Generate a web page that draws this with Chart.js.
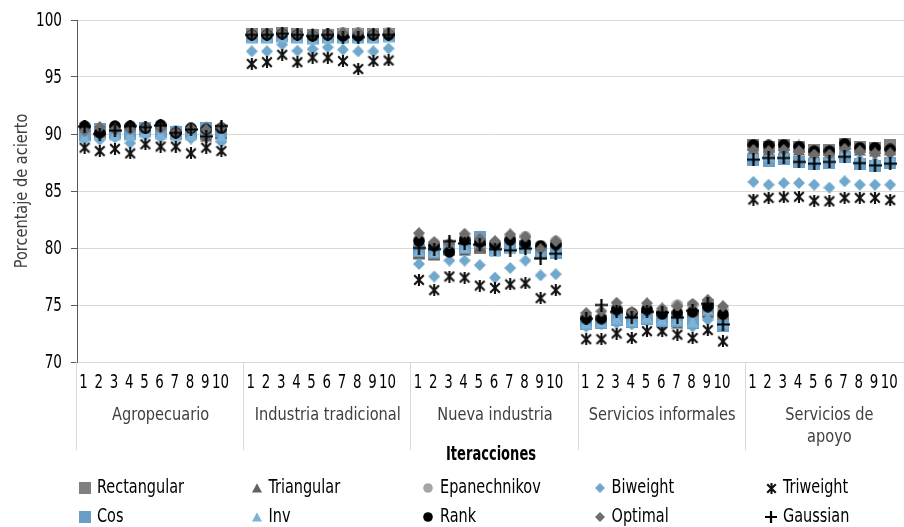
<!DOCTYPE html>
<html><head><meta charset="utf-8">
<script src="https://cdn.jsdelivr.net/npm/chart.js@4.4.1/dist/chart.umd.min.js"></script>
<style>
html,body{margin:0;padding:0;background:#fff;overflow:hidden}
#wrap{position:relative;width:904px;height:527px;overflow:hidden}
canvas{display:block}
</style>
</head><body><div id="wrap"><canvas id="c" width="920" height="527"></canvas></div>
<script>
// ---------- data ----------
const groups = [['Agropecuario'], ['Industria tradicional'], ['Nueva industria'], ['Servicios informales'], ['Servicios de', 'apoyo']];
const iterations = ['1','2','3','4','5','6','7','8','9','10'];
const yTicks = [70, 75, 80, 85, 90, 95, 100];
const xTitle = 'Iteracciones';
const yTitle = 'Porcentaje de acierto';

const rectangular = [
  90.0, 90.2, 90.3, 90.2, 90.4, 90.3, 90.1, 90.2, 90.0, 90.1,
  98.8, 98.8, 98.9, 98.8, 98.7, 98.7, 98.8, 98.8, 98.8, 98.8,
  79.6, 79.5, 79.9, 80.0, 80.0, 80.0, 80.3, 80.2, 79.6, 79.9,
  73.6, 73.6, 74.2, 73.9, 74.2, 74.0, 73.6, 73.8, 74.5, 73.6,
  89.0, 88.9, 89.0, 88.9, 88.6, 88.6, 89.1, 88.9, 88.8, 89.0];
const triangular = [
  89.9, 90.1, 90.2, 90.1, 90.3, 90.2, 90.0, 90.2, 89.8, 90.0,
  98.7, 98.7, 98.8, 98.7, 98.6, 98.6, 98.7, 98.7, 98.7, 98.7,
  79.5, 79.4, 79.8, 79.8, 80.1, 79.9, 80.0, 80.0, 79.5, 79.8,
  73.5, 73.4, 74.0, 73.7, 74.0, 73.8, 73.4, 73.6, 74.3, 73.5,
  88.7, 88.6, 88.7, 88.6, 88.3, 88.3, 88.8, 88.6, 88.5, 88.6];
const epanechnikov = [
  90.4, 90.5, 90.5, 90.5, 90.6, 90.6, 90.3, 90.5, 90.4, 90.5,
  98.8, 98.8, 98.9, 98.8, 98.7, 98.8, 98.9, 98.9, 98.8, 98.9,
  80.8, 80.4, 80.3, 80.9, 81.0, 80.4, 80.9, 81.0, 80.0, 80.6,
  74.0, 73.9, 74.7, 74.1, 74.7, 74.4, 75.0, 75.0, 74.9, 74.6,
  88.8, 88.7, 88.8, 88.7, 88.4, 88.4, 88.9, 88.7, 88.5, 88.6];
const biweight = [
  89.6, 89.5, 89.7, 89.2, 89.9, 89.7, 89.7, 89.6, 90.6, 89.3,
  97.25, 97.25, 97.85, 97.3, 97.45, 97.6, 97.4, 97.25, 97.25, 97.5,
  78.6, 77.5, 78.9, 78.9, 78.5, 77.4, 78.25, 78.9, 77.6, 77.7,
  73.1, 73.3, 73.4, 73.3, 73.6, 73.1, 73.5, 73.1, 73.7, 73.2,
  85.8, 85.55, 85.7, 85.7, 85.55, 85.3, 85.85, 85.55, 85.55, 85.55];
const triweight = [
  88.8, 88.5, 88.7, 88.3, 89.1, 88.9, 88.9, 88.3, 88.8, 88.5,
  96.15, 96.3, 96.95, 96.3, 96.7, 96.7, 96.4, 95.7, 96.4, 96.45,
  77.2, 76.3, 77.5, 77.4, 76.7, 76.5, 76.8, 76.9, 75.6, 76.3,
  72.0, 72.0, 72.5, 72.1, 72.7, 72.7, 72.4, 72.1, 72.8, 71.8,
  84.25, 84.4, 84.45, 84.5, 84.15, 84.1, 84.4, 84.4, 84.4, 84.2];
const cos = [
  89.9, 90.4, 90.1, 90.0, 90.5, 90.3, 90.2, 90.1, 90.5, 90.3,
  98.5, 98.5, 98.6, 98.5, 98.4, 98.5, 98.5, 98.5, 98.5, 98.6,
  79.8, 79.8, 80.0, 80.2, 81.0, 79.8, 80.1, 80.2, 79.7, 79.6,
  73.3, 73.4, 73.7, 73.5, 73.8, 73.6, 73.6, 73.4, 75.0, 73.2,
  87.75, 87.6, 87.8, 87.55, 87.4, 87.5, 88.0, 87.4, 87.2, 87.5];
const inv = [
  89.7, 90.0, 89.9, 89.9, 90.2, 90.0, 89.9, 89.9, 90.3, 89.8,
  98.4, 98.4, 98.5, 98.4, 98.3, 98.4, 98.4, 98.4, 98.4, 98.5,
  79.7, 79.6, 79.9, 80.0, 80.5, 79.7, 80.0, 80.0, 79.5, 79.7,
  73.4, 73.5, 73.8, 73.6, 73.9, 73.7, 73.7, 73.5, 74.6, 73.4,
  88.2, 88.1, 88.2, 89.1, 87.9, 87.9, 88.4, 88.0, 87.8, 88.0];
const rank = [
  90.7, 90.1, 90.7, 90.7, 90.5, 90.8, 90.1, 90.5, 90.4, 90.5,
  98.7, 98.7, 98.8, 98.7, 98.6, 98.7, 98.6, 98.6, 98.7, 98.7,
  80.6, 80.2, 79.65, 80.7, 80.5, 80.3, 80.7, 80.4, 80.2, 80.3,
  73.8, 73.8, 74.6, 74.3, 74.6, 74.2, 74.3, 74.4, 74.85, 74.2,
  89.05, 89.0, 89.05, 88.9, 88.5, 88.5, 89.15, 88.8, 88.8, 88.65];
const optimal = [
  90.3, 90.6, 90.4, 90.4, 90.6, 90.5, 90.2, 90.5, 90.4, 90.6,
  98.8, 98.8, 98.9, 98.8, 98.8, 98.8, 98.9, 98.9, 98.8, 98.9,
  81.3, 80.5, 80.4, 81.25, 80.8, 80.6, 81.2, 81.0, 79.9, 80.6,
  74.3, 74.45, 75.2, 74.4, 75.15, 74.7, 74.9, 75.1, 75.45, 74.9,
  88.6, 88.5, 88.6, 88.5, 88.2, 88.2, 88.7, 88.5, 88.3, 88.3];
const gaussian = [
  90.65, 90.0, 90.3, 90.7, 90.6, 90.75, 90.1, 90.4, 89.8, 90.7,
  98.7, 98.7, 98.8, 98.7, 98.6, 98.7, 98.5, 98.5, 98.7, 98.7,
  80.0, 79.9, 80.6, 80.4, 80.3, 79.9, 79.8, 79.95, 79.1, 79.5,
  73.8, 75.0, 74.4, 73.9, 74.4, 74.35, 73.9, 74.5, 75.1, 73.3,
  87.75, 87.9, 87.9, 87.55, 87.4, 87.55, 88.0, 87.45, 87.25, 87.4];

// ---------- series definitions ----------
const FAMILY = '"DejaVu Sans Condensed", "DejaVu Sans", sans-serif';
const seriesDefs = [
  {label: 'Rectangular', values: rectangular, shape: 'square', color: '#7f7f7f'},
  {label: 'Triangular', values: triangular, shape: 'triangle', color: '#626262'},
  {label: 'Epanechnikov', values: epanechnikov, shape: 'circle', color: '#a6a6a6'},
  {label: 'Biweight', values: biweight, shape: 'diamond', color: '#70a8cd'},
  {label: 'Triweight', values: triweight, shape: 'star', color: '#111111'},
  {label: 'Cos', values: cos, shape: 'square', color: '#6a9ec6'},
  {label: 'Inv', values: inv, shape: 'triangle', color: '#7db3d8'},
  {label: 'Rank', values: rank, shape: 'circle', color: '#000000'},
  {label: 'Optimal', values: optimal, shape: 'diamond', color: '#6d6d6d'},
  {label: 'Gaussian', values: gaussian, shape: 'plus', color: '#000000'}
];

function makeMarker(shape, color, size) {
  const c = document.createElement('canvas');
  c.width = size; c.height = size;
  const g = c.getContext('2d');
  const h = size / 2;
  g.fillStyle = color; g.strokeStyle = color;
  g.beginPath();
  if (shape === 'square') {
    g.fillRect(0, 0, size, size);
  } else if (shape === 'circle') {
    g.arc(h, h, h - 0.2, 0, Math.PI * 2); g.fill();
  } else if (shape === 'triangle') {
    g.moveTo(h, 0.3); g.lineTo(size, size - 0.5); g.lineTo(0, size - 0.5); g.closePath(); g.fill();
  } else if (shape === 'diamond') {
    g.moveTo(h, 0); g.lineTo(size, h); g.lineTo(h, size); g.lineTo(0, h); g.closePath(); g.fill();
  } else if (shape === 'star') {
    g.lineWidth = 2.1;
    g.moveTo(1.2, 1.2); g.lineTo(size - 1.2, size - 1.2);
    g.moveTo(size - 1.2, 1.2); g.lineTo(1.2, size - 1.2);
    g.moveTo(h, 0); g.lineTo(h, size);
    g.stroke();
  } else if (shape === 'plus') {
    g.lineWidth = 2.2;
    g.moveTo(h, 0); g.lineTo(h, size);
    g.moveTo(0, h); g.lineTo(size, h);
    g.stroke();
  }
  return c;
}
const plotSize = {square: 12, circle: 12, triangle: 12, diamond: 12, star: 12, plus: 13};
const legendSize = {square: 12, circle: 10, triangle: 10, diamond: 10, star: 11, plus: 12};

// category labels: 10 iterations per group followed by one empty slot
const labels = [];
groups.forEach(() => { iterations.forEach(t => labels.push(t)); labels.push(''); });
function withGaps(vals) {
  const out = [];
  groups.forEach((g, gi) => {
    iterations.forEach((t, ti) => out.push(vals[gi * iterations.length + ti]));
    out.push(null);
  });
  return out;
}

const datasets = seriesDefs.map((s, i) => ({
  label: s.label,
  data: withGaps(s.values),
  showLine: false,
  pointStyle: makeMarker(s.shape, s.color, plotSize[s.shape]),
  pointRadius: 6,
  borderColor: s.color,
  backgroundColor: s.color,
  order: seriesDefs.length - i
}));

// text styles: size, weight, colour, and a sample string with its width in the reference
const styles = {
  tick:   {size: 20, weight: 'normal', color: '#000', sample: '100', width: 26},
  iter:   {size: 20, weight: 'normal', color: '#000', sample: '10', width: 17},
  group:  {size: 18, weight: 'normal', color: '#404040', sample: 'Industria tradicional', width: 146},
  ytitle: {size: 18, weight: 'normal', color: '#404040', sample: 'Industria tradicional', width: 146},
  xtitle: {size: 19, weight: 'bold', color: '#000', sample: 'Iteracciones', width: 90},
  legend: {size: 20, weight: 'normal', color: '#000', sample: 'Rectangular', width: 87}
};
function fontOf(st) { return st.weight + ' ' + st.size + 'px ' + FAMILY; }
function squeeze(ctx, st) {
  if (st._sx) return st._sx;
  ctx.save(); ctx.font = fontOf(st);
  st._sx = st.width / ctx.measureText(st.sample).width;
  ctx.restore();
  return st._sx;
}
function text(ctx, s, x, y, st, align, rot) {
  const sx = squeeze(ctx, st);
  ctx.save();
  ctx.translate(x, y);
  if (rot) ctx.rotate(rot);
  ctx.scale(sx, 1);
  ctx.font = fontOf(st);
  ctx.fillStyle = st.color;
  ctx.textAlign = align || 'center';
  ctx.textBaseline = 'middle';
  ctx.fillText(s, 0, 0);
  ctx.restore();
}

const decor = {
  id: 'decor',
  afterDraw(chart) {
    const ctx = chart.ctx;
    const xs = chart.scales.x, ys = chart.scales.y;
    const area = chart.chartArea;
    const slot = xs.getPixelForValue(1) - xs.getPixelForValue(0);
    const per = iterations.length + 1;
    ctx.save();
    // y tick labels
    yTicks.forEach(v => text(ctx, String(v), 62, ys.getPixelForValue(v) + 1, styles.tick, 'right'));
    // y title
    text(ctx, yTitle, 22, (area.top + area.bottom) / 2, styles.ytitle, 'center', -Math.PI / 2);
    // iteration labels
    labels.forEach((l, i) => { if (l) text(ctx, l, xs.getPixelForValue(i) - 1, 383, styles.iter, 'center'); });
    // group dividers
    ctx.strokeStyle = '#d9d9d9'; ctx.lineWidth = 1;
    const bounds = [area.left];
    groups.forEach((g, gi) => bounds.push(xs.getPixelForValue(gi * per + per - 1) + slot / 2));
    ctx.beginPath();
    bounds.forEach(b => { const bx = Math.round(b) - 0.5; ctx.moveTo(bx, area.bottom); ctx.lineTo(bx, 450); });
    ctx.stroke();
    // group labels
    groups.forEach((g, gi) => {
      const cx = (bounds[gi] + bounds[gi + 1]) / 2;
      g.forEach((line, li) => text(ctx, line, cx, 415 + li * 22, styles.group, 'center'));
    });
    // x title
    text(ctx, xTitle, 491, 455, styles.xtitle, 'center');
    // legend
    const cols = 5;
    seriesDefs.forEach((s, i) => {
      const col = i % cols, row = Math.floor(i / cols);
      const tx = 97 + col * 171.5;
      const ty = 488 + row * 29;
      const m = makeMarker(s.shape, s.color, legendSize[s.shape]);
      ctx.drawImage(m, Math.round(tx - 12 - m.width / 2), Math.round(ty - m.height / 2));
      text(ctx, s.label, tx, ty, styles.legend, 'left');
    });
    ctx.restore();
  }
};

new Chart(document.getElementById('c'), {
  type: 'line',
  data: {labels, datasets},
  options: {
    responsive: false,
    animation: false,
    events: [],
    layout: {padding: {top: 20, left: 0, right: 2, bottom: 0}},
    plugins: {legend: {display: false}, tooltip: {enabled: false}},
    scales: {
      x: {
        type: 'category',
        offset: true,
        grid: {display: false, drawTicks: false, tickLength: 0},
        border: {display: true, color: '#d9d9d9'},
        ticks: {display: false},
        afterFit(s) { s.height = 527 - 362; }
      },
      y: {
        min: 70, max: 100,
        afterBuildTicks(s) { s.ticks = yTicks.map(v => ({value: v})); },
        grid: {color: '#d9d9d9', tickColor: '#595959', tickLength: 6, drawTicks: true},
        border: {display: true, color: '#595959', width: 1},
        ticks: {display: false},
        afterFit(s) { s.width = 77; }
      }
    }
  },
  plugins: [decor]
});
</script>
</body></html>
